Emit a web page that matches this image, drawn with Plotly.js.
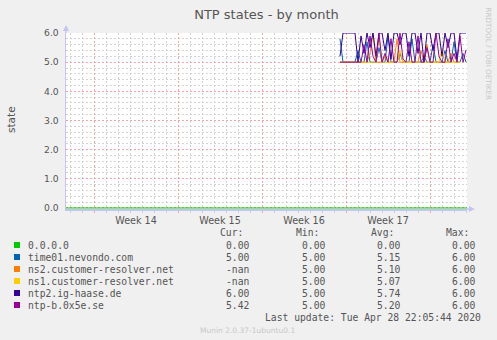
<!DOCTYPE html>
<html>
<head>
<meta charset="utf-8">
<script src="https://cdn.plot.ly/plotly-3.0.1.min.js"></script>
<style>
  html, body { margin: 0; padding: 0; background: #f0f0f0; }
  #chart { width: 497px; height: 340px; }
</style>
</head>
<body>
<div id="chart"></div>
<script>
// ---------------- data ----------------
const seriesNames = ["0.0.0.0", "time01.nevondo.com", "ns2.customer-resolver.net",
                     "ns1.customer-resolver.net", "ntp2.ig-haase.de", "ntp-b.0x5e.se"];
const seriesColors = ["#00CC00", "#0066B3", "#FF8000", "#FFCC00", "#330099", "#990099"];

// samples every 6 hours starting 2020-04-19 12:00
const sampleStart = "2020-04-19 12:00";
const sampleStepHours = 6;

const time01 = [5.8, 5, 5, 5, 5, 5, 5.4, 5, 5, 5.7, 5, 5, 5, 5.5, 5, 5, 5.9, 5, 5, 5, 5.3, 5,
                5, 5, 5.8, 5, 5, 5, 5.2, 5, 5, 5.6, 5, 5, 5, 5.4, 5, 5, 5.7, 5, 5, 5.3, 5];
const ns2 = [5, 5, 5, 5, 5, 5, 5, 5, 5, 5, 5.3, 6, 5, 5, 5, 5.2, 5, 5, 5, 5.8, 5, 5,
             5, 5, 5, 5, 5, 5.4, 5, 5.6, 5, 5, 5, 5, 5, 5, 5, 5.3, 5, 5, 5, null, null];
const ns1 = [5, 5, 5, 5, 5, 5, 5, 5, 5, 5, 5, 5, 5, 5.9, 5, 5, 5, 5, 5, 5, 5.4, 5,
             5, 5, 5, 5, 5, 5, 5, 5, 5, 5, 5, 5, 5.5, 5, 5, 5, 5, 5, 5, null, null];
const ntp2 = [5.2, 6, 6, 6, 6, 6, 5.0, 5.9, 5.3, 6, 5.5, 6, 5.2, 6, 6, 5.4, 6, 5.1, 6, 6, 5.6, 6,
              6, 5.2, 6, 6, 5.3, 6, 5.0, 6, 6, 5.4, 6, 6, 5.2, 6, 5.5, 6, 6, 5.1, 6, 6, 6];
const ntpb = [5, 5, 5, 5, 5, 5, 5, 5, 5.6, 5, 5.9, 5.2, 5, 6, 5, 5.3, 5, 5.8, 5, 5, 6, 5.1,
              5, 5.7, 5, 5, 5.9, 5, 5, 5.5, 5, 5, 6, 5.2, 5, 5, 5.8, 5, 5.3, 5, 5.9, 5, 5.42];

// 0.0.0.0 : daily samples over the whole month, starting 2020-03-27 12:00
const zeroStart = "2020-03-27 12:00";
const zeroVals = [0, 0, 0, 0, 0, 0, 0, 0, 0, 0, 0, 0, 0, 0, 0, 0, 0, 0,
                  0, 0, 0, 0, 0, 0, 0, 0, 0, 0, 0, 0, 0, 0, 0, 0, 0];

const curVals = ["0.00", "5.00", "-nan", "-nan", "6.00", "5.42"];
const minVals = ["0.00", "5.00", "5.00", "5.00", "5.00", "5.00"];
const avgVals = ["0.00", "5.15", "5.10", "5.07", "5.74", "5.20"];
const maxVals = ["0.00", "6.00", "6.00", "6.00", "6.00", "6.00"];

const xRange = ["2020-03-27 16:00", "2020-04-30 02:00"];
const yTicks = [0, 1, 2, 3, 4, 5, 6];

// ---------------- helpers ----------------
function timeSeries(start, stepHours, n) {
  const base = new Date(start.replace(" ", "T") + ":00Z").getTime();
  const out = [];
  for (let i = 0; i < n; i++) {
    const d = new Date(base + i * stepHours * 3600000);
    out.push(d.toISOString().slice(0, 16).replace("T", " "));
  }
  return out;
}

const W = 497, H = 340;
const M = { l: 66, r: 30, t: 33, b: 131 };
const PW = W - M.l - M.r, PH = H - M.t - M.b;
const px = x => (x - M.l) / PW;
const py = y => (H - M.b - y) / PH;

const sampleTimes = timeSeries(sampleStart, sampleStepHours, time01.length);
const zeroTimes = timeSeries(zeroStart, 24, zeroVals.length);
const valueSets = [zeroVals, time01, ns2, ns1, ntp2, ntpb];

const traces = valueSets.map((vals, i) => ({
  type: "scatter",
  mode: "lines",
  x: i === 0 ? zeroTimes : sampleTimes,
  y: vals,
  name: seriesNames[i],
  line: { color: seriesColors[i], width: 1 },
  connectgaps: false,
  hoverinfo: "skip"
}));

const txtColor = "#555555";
const mono = "DejaVu Sans Mono, monospace";
const annotations = [];
const shapes = [];

// y axis label
annotations.push({ xref: "paper", yref: "paper", x: px(11), y: py(120), text: "state",
  textangle: -90, showarrow: false, xanchor: "center", yanchor: "middle",
  font: { family: "DejaVu Sans", size: 10.5, color: txtColor } });
// side credit
annotations.push({ xref: "paper", yref: "paper", x: px(488), y: py(5), text: "RRDTOOL / TOBI OETIKER",
  textangle: 90, showarrow: false, xanchor: "center", yanchor: "top",
  font: { family: "DejaVu Sans", size: 7.2, color: "#c8c8c8" } });

// legend header
const colRight = [251, 327, 402, 477];
const headers = ["Cur:", "Min:", "Avg:", "Max:"];
headers.forEach((h, j) => annotations.push({ xref: "paper", yref: "paper",
  x: px(colRight[j] - 6), y: py(232), text: h, showarrow: false, xanchor: "right", yanchor: "middle",
  font: { family: mono, size: 9.7, color: txtColor } }));

const rowY = [245, 257, 269, 281, 293, 305];
seriesNames.forEach((nm, i) => {
  shapes.push({ type: "rect", xref: "paper", yref: "paper",
    x0: px(14), x1: px(20), y0: py(rowY[i] + 3), y1: py(rowY[i] - 3),
    fillcolor: seriesColors[i], line: { width: 0 } });
  annotations.push({ xref: "paper", yref: "paper", x: px(25.5), y: py(rowY[i]), text: nm,
    showarrow: false, xanchor: "left", yanchor: "middle",
    font: { family: mono, size: 9.7, color: txtColor } });
  [curVals, minVals, avgVals, maxVals].forEach((col, j) => annotations.push({
    xref: "paper", yref: "paper", x: px(colRight[j]), y: py(rowY[i]), text: col[i],
    showarrow: false, xanchor: "right", yanchor: "middle",
    font: { family: mono, size: 9.7, color: txtColor } }));
});
annotations.push({ xref: "paper", yref: "paper", x: px(483), y: py(317),
  text: "Last update: Tue Apr 28 22:05:44 2020", showarrow: false, xanchor: "right", yanchor: "middle",
  font: { family: mono, size: 9.7, color: txtColor } });
annotations.push({ xref: "paper", yref: "paper", x: px(247), y: py(330),
  text: "Munin 2.0.37-1ubuntu0.1", showarrow: false, xanchor: "center", yanchor: "middle",
  font: { family: "DejaVu Sans", size: 7.5, color: "#c8c8c8" } });

// axis arrows
const axCol = "#c4c4f4";
shapes.push({ type: "line", xref: "paper", yref: "paper", x0: px(66), x1: px(66), y0: py(33), y1: py(29),
  line: { color: axCol, width: 1.5 } });
shapes.push({ type: "path", xref: "paper", yref: "paper", fillcolor: axCol, line: { width: 0 },
  path: `M ${px(63)} ${py(31)} L ${px(69)} ${py(31)} L ${px(66)} ${py(25)} Z` });
shapes.push({ type: "line", xref: "paper", yref: "paper", x0: px(467), x1: px(470), y0: py(209), y1: py(209),
  line: { color: axCol, width: 1.5 } });
shapes.push({ type: "path", xref: "paper", yref: "paper", fillcolor: axCol, line: { width: 0 },
  path: `M ${px(469)} ${py(206)} L ${px(469)} ${py(212)} L ${px(475)} ${py(209)} Z` });

const redGrid = "#f2a8a8";
const greyGrid = "#d4d4d4";

const layout = {
  width: W, height: H,
  margin: M,
  paper_bgcolor: "#f0f0f0",
  plot_bgcolor: "#ffffff",
  showlegend: false,
  title: { text: "NTP states - by month", x: 0.5, xref: "paper", xanchor: "center",
    y: 1 - 14 / H, yanchor: "middle",
    font: { family: "DejaVu Sans", size: 13, color: txtColor } },
  xaxis: {
    type: "date", range: xRange, fixedrange: true,
    tick0: "2020-03-30", dtick: 7 * 86400000, tickformat: "Week %V", ticklabelmode: "period",
    showgrid: true, gridcolor: redGrid, griddash: "2px,2px", gridwidth: 1,
    ticks: "outside", ticklen: 2, tickcolor: redGrid,
    tickfont: { family: "DejaVu Sans", size: 9.6, color: txtColor },
    minor: { dtick: 86400000, tick0: "2020-03-30", showgrid: true, gridcolor: greyGrid,
      griddash: "2px,2px", ticks: "outside", ticklen: 2, tickcolor: "#d0d0d0" },
    showline: true, linecolor: axCol, linewidth: 1.5, zeroline: false,
    layer: "below traces"
  },
  yaxis: {
    range: [-0.035, 6], fixedrange: true,
    tickvals: yTicks, tickformat: ".1f",
    showgrid: true, gridcolor: redGrid, griddash: "2px,2px", gridwidth: 1,
    ticks: "outside", ticklen: 4, tickcolor: "rgba(0,0,0,0)",
    tickfont: { family: "DejaVu Sans", size: 9.2, color: txtColor },
    minor: { dtick: 0.2, showgrid: true, gridcolor: greyGrid, griddash: "2px,2px" },
    showline: true, linecolor: axCol, linewidth: 1.5, zeroline: false,
    layer: "below traces"
  },
  annotations: annotations,
  shapes: shapes
};

Plotly.newPlot("chart", traces, layout, { staticPlot: true, displayModeBar: false });
</script>
</body>
</html>
